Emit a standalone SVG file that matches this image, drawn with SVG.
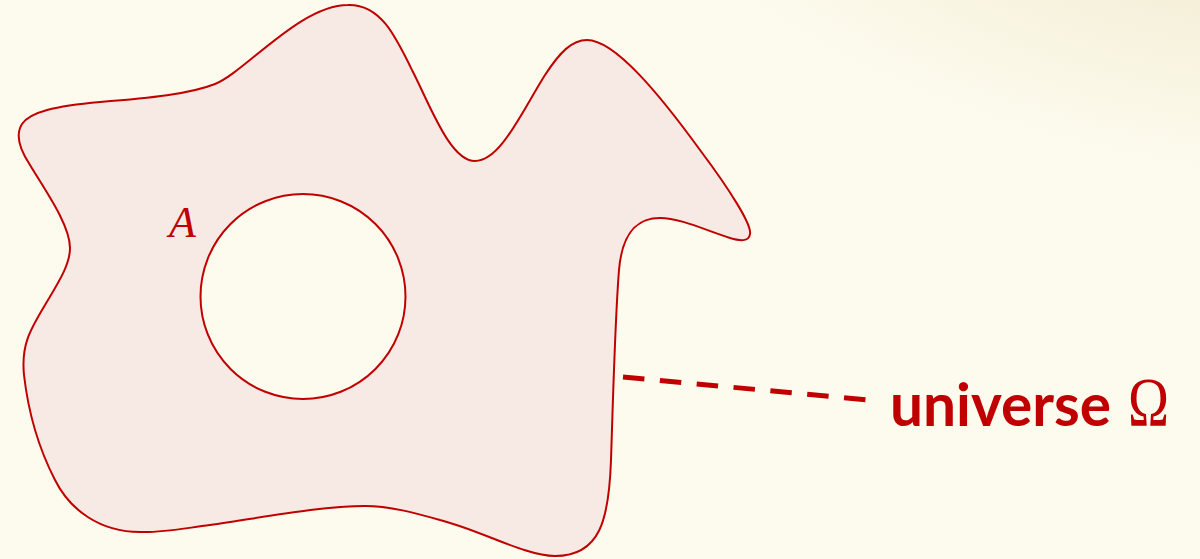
<svg xmlns="http://www.w3.org/2000/svg" width="1200" height="559" viewBox="0 0 1200 559">
  <defs>
    <radialGradient id="corner" gradientUnits="userSpaceOnUse" cx="1180" cy="-60" r="560" gradientTransform="translate(1180 -60) rotate(12) scale(1 0.4) translate(-1180 60)">
      <stop offset="0" stop-color="#efe7c9" stop-opacity="0.75"/>
      <stop offset="1" stop-color="#efe7c9" stop-opacity="0"/>
    </radialGradient>
    <style>
      .outline { stroke: #c00000; stroke-width: 2; }
      .label { fill: #c00000; }
    </style>
  </defs>
  <rect width="1200" height="559" fill="#fdfbee"/>
  <rect width="1200" height="559" fill="url(#corner)"/>

  <g id="universe">
    <path class="outline" fill="#f7e9e3" d="M 348,5 C 380,4 395,35 412,70 C 430,105 450,161 475,161 C 500,161 520,115 545,75 C 560,52 572,40 587,40 C 615,40 660,95 700,150 C 730,190 752,225 750,234 C 749,242 740,241 730,238 C 705,230 680,218 660,218 C 635,218 622,235 619,270 C 615,320 613,400 611,460 C 609,520 600,556 555,556 C 525,556 480,530 440,520 C 415,513 390,506 365,506 C 320,506 260,518 210,525 C 180,529 160,533 140,532 C 100,532 70,510 55,480 C 38,447 28,410 24,375 C 21,345 30,330 45,305 C 58,283 70,265 70,248 C 70,225 45,190 30,165 C 20,150 15,135 22,124 C 30,112 55,106 100,102 C 150,98 190,94 215,84 C 245,72 300,5 348,5 Z"/>
  </g>

  <g id="set-A">
    <circle class="outline" cx="303" cy="296.5" r="102.5" fill="#fdfbee"/>
    <text class="label" x="169" y="237" font-family="'Liberation Serif', serif" font-style="italic" font-size="44">A</text>
  </g>

  <g id="connectors">
    <line x1="623" y1="377" x2="868" y2="400" stroke="#c00000" stroke-width="5" stroke-dasharray="21.5 15.5"/>
  </g>

  <g id="universe-label">
    <text class="label" x="890" y="426" font-family="Lato, 'Open Sans', sans-serif" font-weight="bold" font-size="60" textLength="221" lengthAdjust="spacingAndGlyphs">universe</text>
    <text class="label" x="1128" y="426" font-family="'Liberation Serif', serif" font-size="70" textLength="41" lengthAdjust="spacingAndGlyphs">Ω</text>
  </g>
</svg>
